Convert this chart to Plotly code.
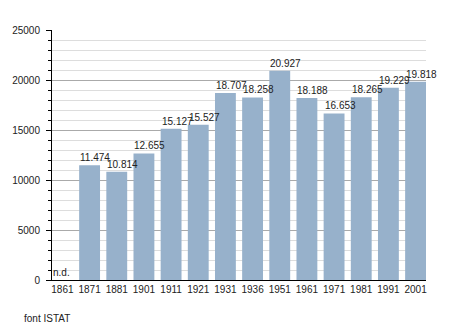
import plotly.graph_objects as go

# Census years and resident population (n.d. = not available)
years = ["1861", "1871", "1881", "1901", "1911", "1921", "1931",
         "1936", "1951", "1961", "1971", "1981", "1991", "2001"]
population = [0, 11474, 10814, 12655, 15127, 15527, 18707,
              18258, 20927, 18188, 16653, 18265, 19229, 19818]
labels = ["n.d.", "11.474", "10.814", "12.655", "15.127", "15.527", "18.707",
          "18.258", "20.927", "18.188", "16.653", "18.265", "19.229", "19.818"]
source_note = "font ISTAT"

BAR_COLOR = "#97b1cb"
FONT = "Liberation Sans, Arial, sans-serif"
half_bar = 0.384  # half bar width in category units

idx = list(range(len(years)))

fig = go.Figure(go.Bar(
    x=idx, y=population, marker_color=BAR_COLOR, marker_line_width=0,
    hoverinfo="skip",
))

# value labels, left-aligned with each bar's left edge
for i, (v, t) in enumerate(zip(population, labels)):
    fig.add_annotation(x=i - half_bar, y=v, text=t, showarrow=False,
                       xanchor="left", yanchor="bottom", xshift=-1,
                       font=dict(family=FONT, size=10, color="#222"))

fig.add_annotation(xref="paper", yref="paper", x=-0.08, y=-0.155,
                   text=source_note, showarrow=False, xanchor="left",
                   yanchor="middle", font=dict(family=FONT, size=10, color="#222"))

fig.update_layout(
    width=455, height=330, margin=dict(l=50, r=29, t=30, b=50),
    paper_bgcolor="white", plot_bgcolor="white",
    bargap=0.232, showlegend=False,
    font=dict(family=FONT, size=10, color="#222"),
    xaxis=dict(range=[-half_bar, len(years) - 1 + half_bar],
               tickvals=idx, ticktext=years, showgrid=False,
               showline=True, linecolor="black", linewidth=1,
               ticks="", zeroline=False, fixedrange=True),
    yaxis=dict(range=[0, 25000], dtick=5000, tickformat="d",
               showgrid=True, gridcolor="#aaaaaa", gridwidth=1,
               showline=True, linecolor="black", linewidth=1,
               ticks="outside", ticklen=5, tickcolor="black",
               zeroline=False, fixedrange=True, ticklabelstandoff=4,
               minor=dict(dtick=1000, showgrid=True, gridcolor="#dddddd",
                          ticks="outside", ticklen=3, tickcolor="black")),
)

fig.write_html("out.html")
